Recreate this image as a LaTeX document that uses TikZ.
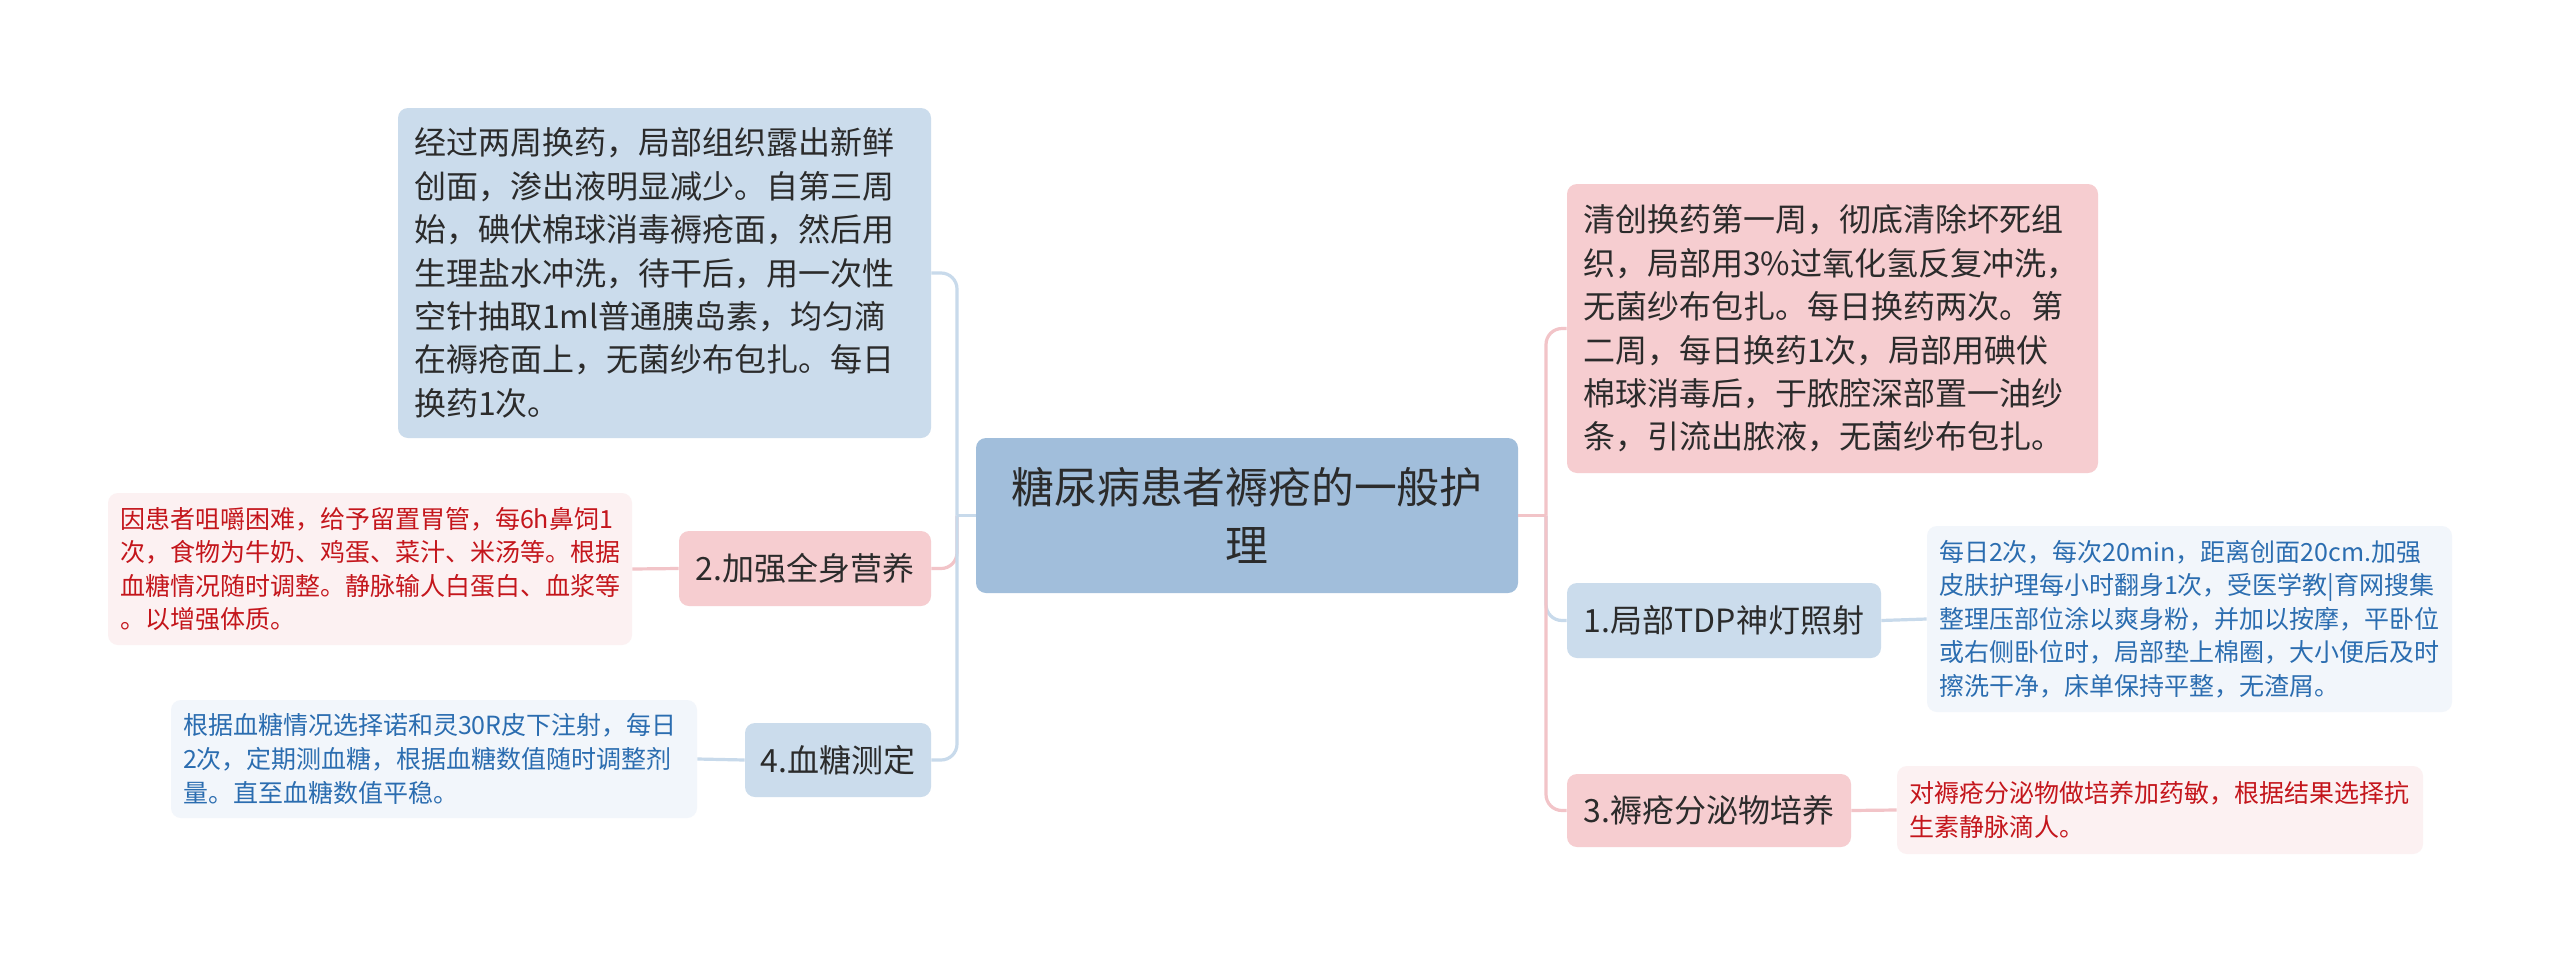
\documentclass[tikz,border=0pt]{standalone}
\usepackage{fontspec}
\setmainfont{Noto Sans CJK SC}
\definecolor{darktxt}{HTML}{2B2B2B}
\definecolor{rootfill}{HTML}{A1BEDB}
\definecolor{bluefill}{HTML}{CBDCEC}
\definecolor{pinkfill}{HTML}{F6CDD0}
\definecolor{redleaf}{HTML}{FCF1F2}
\definecolor{redtxt}{HTML}{C4161C}
\definecolor{blueleaf}{HTML}{F2F6FB}
\definecolor{bluetxt}{HTML}{2B6DB0}
\definecolor{blueline}{HTML}{C8DAEB}
\definecolor{pinkline}{HTML}{F2C4C8}
\tikzset{
  boxbase/.style={rounded corners=5pt, inner ysep=0pt, anchor=center},
  rootbox/.style={boxbase, fill=rootfill, text=darktxt, align=center, text width=250pt,
    minimum width=271pt, minimum height=77.5pt, font=\fontsize{21.4pt}{28.6pt}\selectfont},
  bigbox/.style={boxbase, text=darktxt, align=left, inner xsep=8pt,
    font=\fontsize{16pt}{21.7pt}\selectfont},
  topicbox/.style={boxbase, text=darktxt, align=center, inner xsep=0pt,
    font=\fontsize{16pt}{20pt}\selectfont},
  leafbox/.style={boxbase, align=left, inner xsep=6pt,
    font=\fontsize{12.5pt}{16.8pt}\selectfont},
  redleafbox/.style={leafbox, fill=redleaf, text=redtxt},
  blueleafbox/.style={leafbox, fill=blueleaf, text=bluetxt},
  bl/.style={draw=blueline, line width=1.6pt},
  pl/.style={draw=pinkline, line width=1.6pt},
  rc/.style={rounded corners=8pt}
}
\begin{document}
\begin{tikzpicture}[x=0.5pt,y=-0.5pt]
\useasboundingbox[fill=white] (0,0) rectangle (2560,964);

% root
\node[rootbox] (C) at (1247,515.5) {糖尿病患者褥疮的一般护\\理};

% left side
\node[bigbox, fill=bluefill, text width=250.5pt, minimum height=165pt] (TL) at (664.5,273)
 {经过两周换药，局部组织露出新鲜\\
  创面，渗出液明显减少。自第三周\\
  始，碘伏棉球消毒褥疮面，然后用\\
  生理盐水冲洗，待干后，用一次性\\
  空针抽取1ml普通胰岛素，均匀滴\\
  在褥疮面上，无菌纱布包扎。每日\\
  换药1次。};
\node[topicbox, fill=pinkfill, minimum width=126pt, minimum height=37.5pt] (N2) at (805,568.5) {2.加强全身营养};
\node[redleafbox, text width=250pt, minimum height=76pt] (L2) at (370,569)
 {因患者咀嚼困难，给予留置胃管，每6h鼻饲1\\
  次，食物为牛奶、鸡蛋、菜汁、米汤等。根据\\
  血糖情况随时调整。静脉输人白蛋白、血浆等\\
  。以增强体质。};
\node[topicbox, fill=bluefill, minimum width=93pt, minimum height=37pt] (N4) at (838,760) {4.血糖测定};
\node[blueleafbox, text width=251pt, minimum height=59pt] (L4) at (434,759)
 {根据血糖情况选择诺和灵30R皮下注射，每日\\
  2次，定期测血糖，根据血糖数值随时调整剂\\
  量。直至血糖数值平稳。};

% right side
\node[bigbox, fill=pinkfill, text width=249.5pt, minimum height=144.5pt] (TR) at (1832.5,328.5)
 {清创换药第一周，彻底清除坏死组\\
  织，局部用3\%过氧化氢反复冲洗，\\
  无菌纱布包扎。每日换药两次。第\\
  二周，每日换药1次，局部用碘伏\\
  棉球消毒后，于脓腔深部置一油纱\\
  条，引流出脓液，无菌纱布包扎。};
\node[topicbox, fill=bluefill, minimum width=157pt, minimum height=37.5pt] (N1) at (1724,620.5) {1.局部TDP神灯照射};
\node[blueleafbox, text width=250.5pt, minimum height=93pt] (L1) at (2189.5,619)
 {每日2次，每次20min，距离创面20cm.加强\\
  皮肤护理每小时翻身1次，受医学教|育网搜集\\
  整理压部位涂以爽身粉，并加以按摩，平卧位\\
  或右侧卧位时，局部垫上棉圈，大小便后及时\\
  擦洗干净，床单保持平整，无渣屑。};
\node[topicbox, fill=pinkfill, minimum width=142pt, minimum height=36.5pt] (N3) at (1709,810.5) {3.褥疮分泌物培养};
\node[redleafbox, text width=251pt, minimum height=44pt] (L3) at (2160,810)
 {对褥疮分泌物做培养加药敏，根据结果选择抗\\
  生素静脉滴人。};

% connectors
\coordinate (lt) at (957,515.5);
\coordinate (rt) at (1546,515.5);
\draw[pl, rc] (lt) |- (N2.east);
\draw[bl, rc] (lt) |- (TL.east);
\draw[bl, rc] (lt) |- (N4.east);
\draw[bl] (C.west) -- (lt);
\draw[pl] (N2.west) -- (L2.east);
\draw[bl] (N4.west) -- (L4.east);

\draw[bl, rc] (rt) |- (N1.west);
\draw[pl, rc] (rt) |- (TR.west);
\draw[pl, rc] (rt) |- (N3.west);
\draw[pl] (C.east) -- (rt);
\draw[bl] (N1.east) -- (L1.west);
\draw[pl] (N3.east) -- (L3.west);
\end{tikzpicture}
\end{document}
